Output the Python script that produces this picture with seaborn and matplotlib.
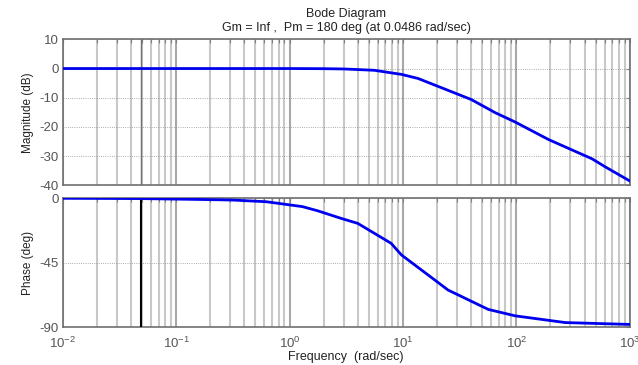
import seaborn as sns
import matplotlib.pyplot as plt
import matplotlib.ticker as mticker
import pandas as pd
import numpy as np

sns.set_style("white")
plt.rcParams['font.family'] = ['Liberation Sans', 'DejaVu Sans']
plt.rcParams['axes.unicode_minus'] = False

# values
mag_freq = [0.01, 0.1, 1.0, 2.0, 3.05, 5.6, 9.7, 13.6, 40, 65, 97.5, 192, 464, 610, 1000]
mag_db = [0, 0, 0, -0.05, -0.15, -0.6, -2.0, -3.4, -10.6, -15.1, -18.3, -24.3, -30.9, -33.7, -38.5]
phase_freq = [0.01, 0.05, 0.16, 0.313, 0.625, 1.30, 1.77, 2.85, 4.0, 7.87, 9.7, 19.1, 25, 56.5, 97.5, 270, 1000]
phase_deg = [0, -0.2, -0.8, -1.2, -2.4, -5.8, -8.7, -14, -17.5, -31.4, -39.5, -57, -64, -77.5, -82, -86.7, -88]
pm_freq = 0.0486

mag_df = pd.DataFrame({'w': mag_freq, 'mag': mag_db})
ph_df = pd.DataFrame({'w': phase_freq, 'ph': phase_deg})

fig = plt.figure(figsize=(6.38, 3.65), dpi=100)
ax1 = fig.add_axes([0.0983, 0.4923, 0.8887, 0.3999])
ax2 = fig.add_axes([0.0983, 0.1033, 0.8887, 0.3534])

sns.lineplot(data=mag_df, x='w', y='mag', ax=ax1, color='#0000ee', lw=2, zorder=5)
sns.lineplot(data=ph_df, x='w', y='ph', ax=ax2, color='#0000ee', lw=2, zorder=5)

ax1.axvline(pm_freq, color='#707070', lw=1, zorder=3)
ax2.axvline(pm_freq, color='black', lw=1.5, zorder=3)

for ax in (ax1, ax2):
    ax.set_xscale('log')
    ax.set_xlim(0.01, 1000)
    ax.xaxis.set_major_locator(mticker.LogLocator(base=10, numticks=10))
    ax.xaxis.set_minor_locator(mticker.LogLocator(base=10, subs=np.arange(2, 10), numticks=20))
    ax.grid(True, which='minor', axis='x', color='#c8c8c8', lw=1.5, zorder=0)
    ax.grid(True, which='major', axis='x', color='#a8a8a8', lw=1.5, zorder=0)
    ax.grid(True, which='major', axis='y', color='#909090', lw=0.6, ls=':', zorder=0)
    ax.set_axisbelow(True)
    ax.tick_params(which='both', direction='in', top=True, right=True,
                   length=3, width=0.8, color='#808080', labelsize=9.5,
                   labelcolor='#555555')
    ax.tick_params(axis='y', which='major', pad=3)
    ax.tick_params(axis='x', which='major', pad=6)
    for s in ax.spines.values():
        s.set_color('#707070')
        s.set_linewidth(1.2)

ax1.set_ylim(-40, 10)
ax1.set_yticks([-40, -30, -20, -10, 0, 10])
ax1.tick_params(axis='x', labelbottom=False)
ax1.set_xlabel('')
ax1.set_ylabel('Magnitude (dB)', fontsize=8.5, color='#222222')

ax2.set_ylim(-90, 0)
ax2.set_yticks([-90, -45, 0])
ax2.set_ylabel('Phase (deg)', fontsize=8.5, color='#222222')
ax2.set_xlabel('Frequency  (rad/sec)', fontsize=9, color='#222222', labelpad=0)

ax1.set_title('Bode Diagram\nGm = Inf ,  Pm = 180 deg (at 0.0486 rad/sec)',
              fontsize=9, color='#222222', pad=6, linespacing=1.25)

fig.savefig('out.png', dpi=100)
